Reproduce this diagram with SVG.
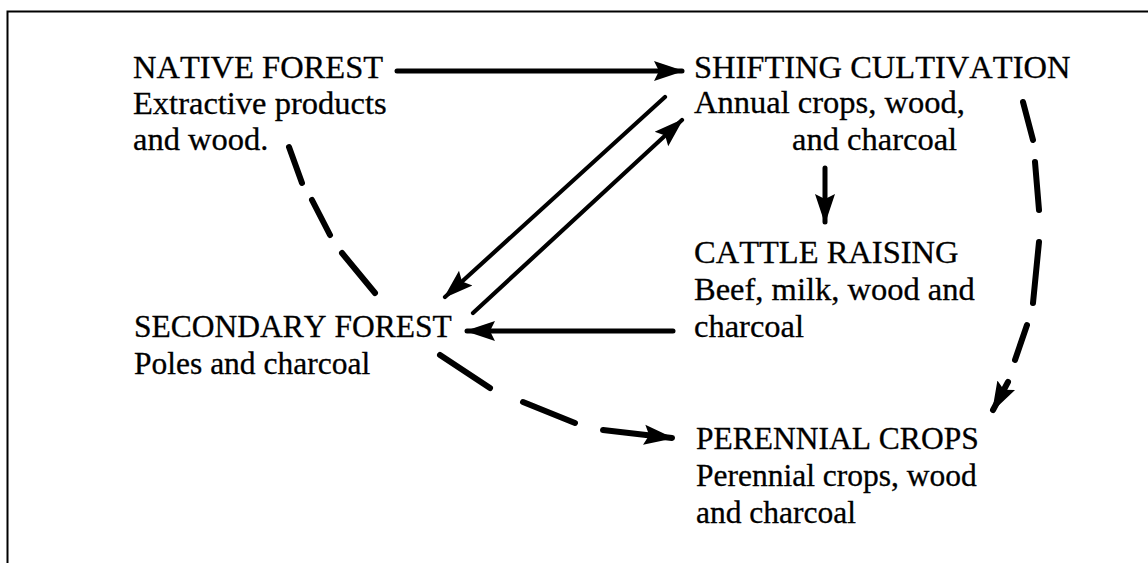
<svg xmlns="http://www.w3.org/2000/svg" width="1148" height="563" viewBox="0 0 1148 563">
<style>
text{font-family:"Liberation Serif","Times New Roman",serif;font-size:32.5px;fill:#000;stroke:#000;stroke-width:0.3;font-kerning:none}
.narrow text{font-size:31.5px}
.frame{fill:none;stroke:#000;stroke-width:2}
.solid{fill:none;stroke:#000;stroke-width:5;stroke-linecap:round}
.thin{fill:none;stroke:#000;stroke-width:4.2;stroke-linecap:round}
.dash{fill:none;stroke:#000;stroke-width:6;stroke-linecap:round}
</style>
<defs>
<marker id="ah" viewBox="0 0 30 22" refX="28" refY="11" markerWidth="30" markerHeight="22" markerUnits="userSpaceOnUse" orient="auto">
<path d="M0,1 L30,11 L0,21 L5,11 z" fill="#000"/>
</marker>
</defs>
<rect width="1148" height="563" fill="#fff"/>
<path class="frame" d="M7.5,563 V11.5 H1148"/>
<g id="native-forest">
<text x="133" y="78">NATIVE FOREST</text>
<text x="133" y="114">Extractive products</text>
<text x="133" y="150">and wood.</text>
</g>
<g id="shifting-cultivation">
<text x="694" y="78">SHIFTING CULTIVATION</text>
<text x="694" y="113">Annual crops, wood,</text>
<text x="792" y="150">and charcoal</text>
</g>
<g id="cattle-raising">
<text x="694" y="263">CATTLE RAISING</text>
<text x="694" y="300">Beef, milk, wood and</text>
<text x="694" y="337">charcoal</text>
</g>
<g id="secondary-forest" class="narrow">
<text x="134" y="337">SECONDARY FOREST</text>
<text x="134" y="374">Poles and charcoal</text>
</g>
<g id="perennial-crops" class="narrow">
<text x="696" y="449">PERENNIAL CROPS</text>
<text x="696" y="486">Perennial crops, wood</text>
<text x="696" y="523">and charcoal</text>
</g>
<g id="connectors">
<path class="solid" d="M397,71 L682,71" marker-end="url(#ah)"/>
<path class="thin" d="M665,97 L445,297" marker-end="url(#ah)"/>
<path class="thin" d="M473,313 L682,120" marker-end="url(#ah)"/>
<path class="solid" d="M825,168 L825,222" marker-end="url(#ah)"/>
<path class="solid" d="M673,331 L467,331" marker-end="url(#ah)"/>
<path class="dash" d="M289,147 L302,183 M312,200 L330,235 M342,253 L375,293"/>
<path class="dash" d="M440,355 L490,388 M523,402 L575,423 M603,430 L672,438" marker-end="url(#ah)"/>
<path class="dash" d="M1023,102 L1033,140 M1035,162 L1039,210 M1039,242 L1033,303 M1027,325 L1015,360 M1008,382 L993,410" marker-end="url(#ah)"/>
</g>
</svg>
